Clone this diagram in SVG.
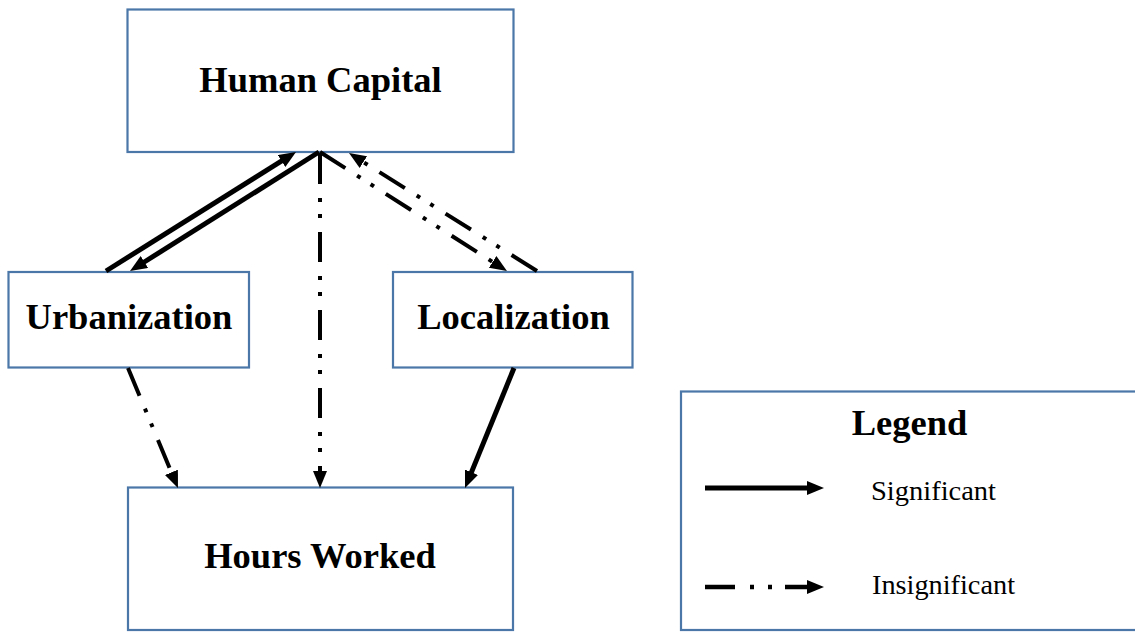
<svg xmlns="http://www.w3.org/2000/svg" width="1135" height="632" viewBox="0 0 1135 632">
<style>
.box{fill:#fff;stroke:#4a76a8;stroke-width:2.2}
.lbl{font-family:"Liberation Serif","Times New Roman",serif;font-weight:bold;font-size:36.5px;fill:#000;text-anchor:middle}
.leg{font-family:"Liberation Serif","Times New Roman",serif;font-size:28px;fill:#000}
.sig{fill:none;stroke:#000;stroke-width:5}
.ins{fill:none;stroke:#000;stroke-width:4;stroke-dasharray:30 14 4 12 4 14}
</style>
<defs>
<marker id="ah" markerUnits="userSpaceOnUse" markerWidth="19" markerHeight="15" refX="2" refY="7" orient="auto">
<path d="M0,0 L17,7 L0,14 z" fill="#000"/>
</marker>
</defs>
<rect width="1135" height="632" fill="#fff"/>
<g id="human-capital">
<rect class="box" x="127.5" y="9.5" width="386" height="142.5"/>
<text class="lbl" x="320.5" y="92">Human Capital</text>
</g>
<g id="urbanization">
<rect class="box" x="8.5" y="272" width="240.5" height="95.5"/>
<text class="lbl" x="129" y="329">Urbanization</text>
</g>
<g id="localization">
<rect class="box" x="393" y="272" width="239.5" height="95.5"/>
<text class="lbl" x="513.5" y="329">Localization</text>
</g>
<g id="hours-worked">
<rect class="box" x="128" y="487.5" width="385" height="142.5"/>
<text class="lbl" x="320" y="568">Hours Worked</text>
</g>
<g id="connectors">
<line class="sig" x1="106" y1="271" x2="283.3" y2="159.9" marker-end="url(#ah)"/>
<line class="sig" x1="319" y1="152" x2="142.7" y2="263" marker-end="url(#ah)"/>
<line class="ins" x1="320" y1="154" x2="320" y2="473" marker-end="url(#ah)"/>
<line class="ins" x1="537" y1="271" x2="361.7" y2="161" marker-end="url(#ah)"/>
<line class="ins" x1="320" y1="152" x2="494.3" y2="263" marker-end="url(#ah)"/>
<line class="ins" x1="128" y1="368" x2="172.2" y2="474.2" marker-end="url(#ah)"/>
<line class="sig" x1="514" y1="368" x2="470.7" y2="474.1" marker-end="url(#ah)"/>
</g>
<g id="legend">
<rect class="box" x="681" y="391.5" width="470" height="238.5"/>
<text class="lbl" x="909.5" y="435">Legend</text>
<line class="sig" x1="705" y1="488" x2="809" y2="488" marker-end="url(#ah)"/>
<text class="leg" x="871" y="500" textLength="125" lengthAdjust="spacingAndGlyphs">Significant</text>
<line stroke="#000" stroke-width="4.5" x1="705" y1="587" x2="735" y2="587"/>
<line stroke="#000" stroke-width="4.5" x1="750" y1="587" x2="754" y2="587"/>
<line stroke="#000" stroke-width="4.5" x1="768" y1="587" x2="772" y2="587"/>
<line stroke="#000" stroke-width="4.5" x1="785" y1="587" x2="809" y2="587" marker-end="url(#ah)"/>
<text class="leg" x="872" y="594" textLength="143" lengthAdjust="spacingAndGlyphs">Insignificant</text>
</g>
</svg>
